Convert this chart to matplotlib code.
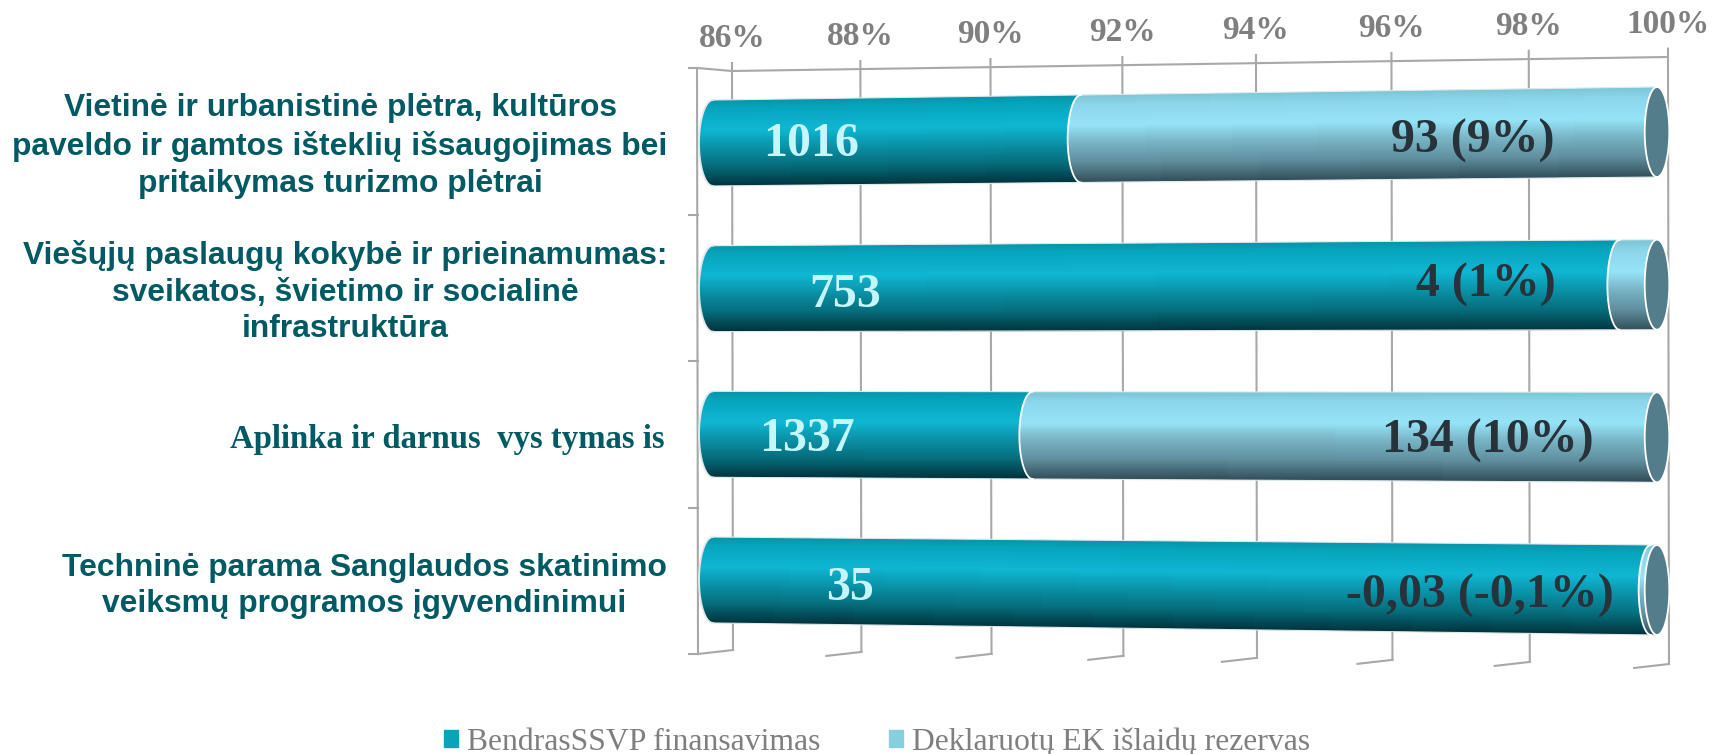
import numpy as np
import matplotlib
matplotlib.use("Agg")
from matplotlib import pyplot as plt
from matplotlib.colors import LinearSegmentedColormap
from matplotlib.patches import Patch, PathPatch
from matplotlib.path import Path
from matplotlib.transforms import Transform, IdentityTransform

W, H = 1712, 754

categories = [
    "Vietinė ir urbanistinė plėtra, kultūros\npaveldo ir gamtos išteklių išsaugojimas bei\npritaikymas turizmo plėtrai",
    "Viešųjų paslaugų kokybė ir prieinamumas:\nsveikatos, švietimo ir socialinė\ninfrastruktūra",
    "Aplinka ir darnus  vys tymas is",
    "Techninė parama Sanglaudos skatinimo\nveiksmų programos įgyvendinimui",
]
financing = [1016, 753, 1337, 35]
reserve = [93, 4, 134, -0.03]
financing_labels = ["1016", "753", "1337", "35"]
reserve_labels = ["93 (9%)", "4 (1%)", "134 (10%)", "-0,03 (-0,1%)"]
series_names = ["BendrasSSVP finansavimas", "Deklaruotų EK išlaidų rezervas"]
x_ticks = [86, 88, 90, 92, 94, 96, 98, 100]
x_tick_labels = ["86%", "88%", "90%", "92%", "94%", "96%", "98%", "100%"]

rows = [3.5, 2.5, 1.5, 0.5]
bar_half = 0.295

# where the labels sit on the picture (pixels from the top left)
cat_pos = [(340, 146), (345, 292), (447, 439), (364, 586)]
fin_pos = [(811, 144), (845, 295), (807, 439), (850, 588)]
res_pos = [(1473, 141), (1486, 285), (1488, 441), (1480, 596)]

GRID = "#a8a8a8"
TEAL = "#005a64"
GREY = "#7f7f7f"
DARK_TXT = "#27323a"
PALE_TXT = "#c5f6fc"
CAP = "#547d8b"

teal_cmap = LinearSegmentedColormap.from_list("teal", [
    (0.0, "#0795a9"), (0.1, "#06a5bd"), (0.35, "#0fb6d2"), (0.55, "#0a93a9"),
    (0.78, "#066c7b"), (1.0, "#003640")])
light_cmap = LinearSegmentedColormap.from_list("light", [
    (0.0, "#7cc6d6"), (0.12, "#8bd6ea"), (0.35, "#96e3f8"), (0.55, "#78b4c5"),
    (0.78, "#5f8d9c"), (1.0, "#33505b")])


class Warp(Transform):
    # perspective of the 3d chart, a plain homography in display space
    input_dims = 2
    output_dims = 2
    is_affine = False
    has_inverse = False

    def __init__(self, src, dst):
        super().__init__()
        A, b = [], []
        for (x, y), (u, v) in zip(src, dst):
            A.append([x, y, 1, 0, 0, 0, -u * x, -u * y])
            A.append([0, 0, 0, x, y, 1, -v * x, -v * y])
            b += [u, v]
        self.h = np.append(np.linalg.solve(np.array(A, float), np.array(b, float)), 1).reshape(3, 3)

    def transform_non_affine(self, values):
        values = np.asarray(values, float)
        pts = np.column_stack([values, np.ones(len(values))]) @ self.h.T
        return pts[:, :2] / pts[:, 2:]


def disp(px, py):
    return (px, H - py)


plt.rcParams["font.family"] = ["Liberation Serif", "DejaVu Sans"]

fig = plt.figure(figsize=(W / 100, H / 100), dpi=100)
ax = fig.add_axes([732 / W, 1 - 650 / H, (1668 - 732) / W, (650 - 71) / H])
ax.set_xlim(86, 100)
ax.set_ylim(0, 4)
ax.patch.set_visible(False)
for s in ax.spines.values():
    s.set_visible(False)
ax.set_yticks([])
ax.xaxis.tick_top()
ax.set_xticks(x_ticks, x_tick_labels)
ax.tick_params(axis="x", length=0, pad=12, labelsize=24, labelcolor=GREY)

wall_src = ax.transData.transform([(86, 4), (100, 4), (100, 0), (86, 0)])
wall_warp = Warp(wall_src, [disp(732, 71), disp(1668, 57), disp(1669, 664), disp(733, 650)])
wall = ax.transData + wall_warp
front_src = ax.transData.transform([(86, 3.5), (100, 3.5), (100, 0.5), (86, 0.5)])
front = ax.transData + Warp(front_src, [disp(713, 143), disp(1657, 132), disp(1657, 590), disp(713, 580)])

for tick in ax.xaxis.get_major_ticks():
    tick.label2.set_transform(tick.label2.get_transform() + wall_warp)
    tick.label2.set_fontweight("bold")

# back wall and floor
line = dict(color=GRID, lw=1.5, clip_on=False, zorder=1, solid_capstyle="projecting")
ident = IdentityTransform()
for x in x_ticks:
    ax.plot([x, x], [0, 4.055], transform=wall, **line)
    fx, fy = wall.transform((x, 0))
    ax.plot([fx, fx - 35], [fy, fy - 4], transform=ident, **line)
ax.plot([86, 100], [4, 4], transform=wall, **line)
tlx, tly = wall.transform((86, 4))
blx, bly = wall.transform((86, 0))
ax.plot([blx - 35, tlx - 35, tlx], [bly - 4, tly + 3, tly], transform=ident, **line)
for y in np.linspace(bly - 4, tly + 3, 5):
    ax.plot([blx - 44, blx - 35], [y, y], transform=ident, **line)


def cap_w(x):
    return 0.217 + (x - 86) / 14 * (0.174 - 0.217)


def arc(x, y, start, stop):
    t = np.radians(np.linspace(start, stop, 60))
    return np.column_stack([x + cap_w(x) * np.cos(t), y + bar_half * np.sin(t)])


def draw_segment(x0, x1, y, cmap, z, edge):
    # left end is the bulging half ellipse, right end gets covered by what follows
    left = arc(x0, y, 90, 270)
    verts = np.vstack([left, [(x1, y - bar_half), (x1, y + bar_half)], left[:1]])
    path = Path(verts)
    xs = [x0 - 0.3, x1 + 0.01]
    ys = np.linspace(y + bar_half, y - bar_half, 91)
    c = np.linspace(0, 1, 90).reshape(-1, 1)
    mesh = ax.pcolormesh(xs, ys, c, cmap=cmap, vmin=0, vmax=1, transform=front, zorder=z)
    mesh.set_clip_box(None)
    mesh.set_clip_path(path, front)
    ax.plot([x0, x1], [y + bar_half] * 2, transform=front, color="#dfe9ec", lw=0.8, zorder=z + 0.1, clip_on=False)
    ax.plot([x0, x1], [y - bar_half] * 2, transform=front, color="#dfe9ec", lw=0.8, zorder=z + 0.1, clip_on=False)
    ax.plot(left[:, 0], left[:, 1], transform=front, color=edge, lw=1.3, zorder=z + 0.1, clip_on=False)


for y, fin, res in zip(rows, financing, reserve):
    split = 100 * fin / (fin + abs(res))
    draw_segment(86, split, y, teal_cmap, 2, "#dfe9ec")
    draw_segment(split, 100, y, light_cmap, 3, "white")
    end = arc(100, y, 0, 360)
    ax.add_patch(PathPatch(Path(end), facecolor=CAP, edgecolor="white", lw=1.3, transform=front, zorder=4, clip_on=False))

# labels
for txt, (px, py) in zip(categories, cat_pos):
    if "\n" in txt:
        fig.text(px / W, 1 - py / H, txt, ha="center", va="center", color=TEAL, fontweight="bold",
                 fontsize=22.9, linespacing=1.3, family=["Liberation Sans"])
    else:
        fig.text(px / W, 1 - py / H, txt, ha="center", va="center", color=TEAL, fontweight="bold",
                 fontsize=23.6, family=["Liberation Serif"])
for txt, (px, py) in zip(financing_labels, fin_pos):
    fig.text(px / W, 1 - py / H, txt, ha="center", va="center", color=PALE_TXT, fontweight="bold", fontsize=34.5, zorder=6)
for txt, (px, py) in zip(reserve_labels, res_pos):
    fig.text(px / W, 1 - py / H, txt, ha="center", va="center", color=DARK_TXT, fontweight="bold", fontsize=34.5, zorder=6)

handles = [Patch(color="#0aa3b8", label=series_names[0]), Patch(color="#86cfde", label=series_names[1])]
fig.legend(handles=handles, loc="center", bbox_to_anchor=(877 / W, 1 - 742 / H), ncols=2, frameon=False,
           fontsize=22.8, labelcolor=GREY, handlelength=0.44, handleheight=0.44, handletextpad=0.3,
           columnspacing=2.16, borderpad=0, borderaxespad=0)

plt.savefig("out.png", dpi=100)
